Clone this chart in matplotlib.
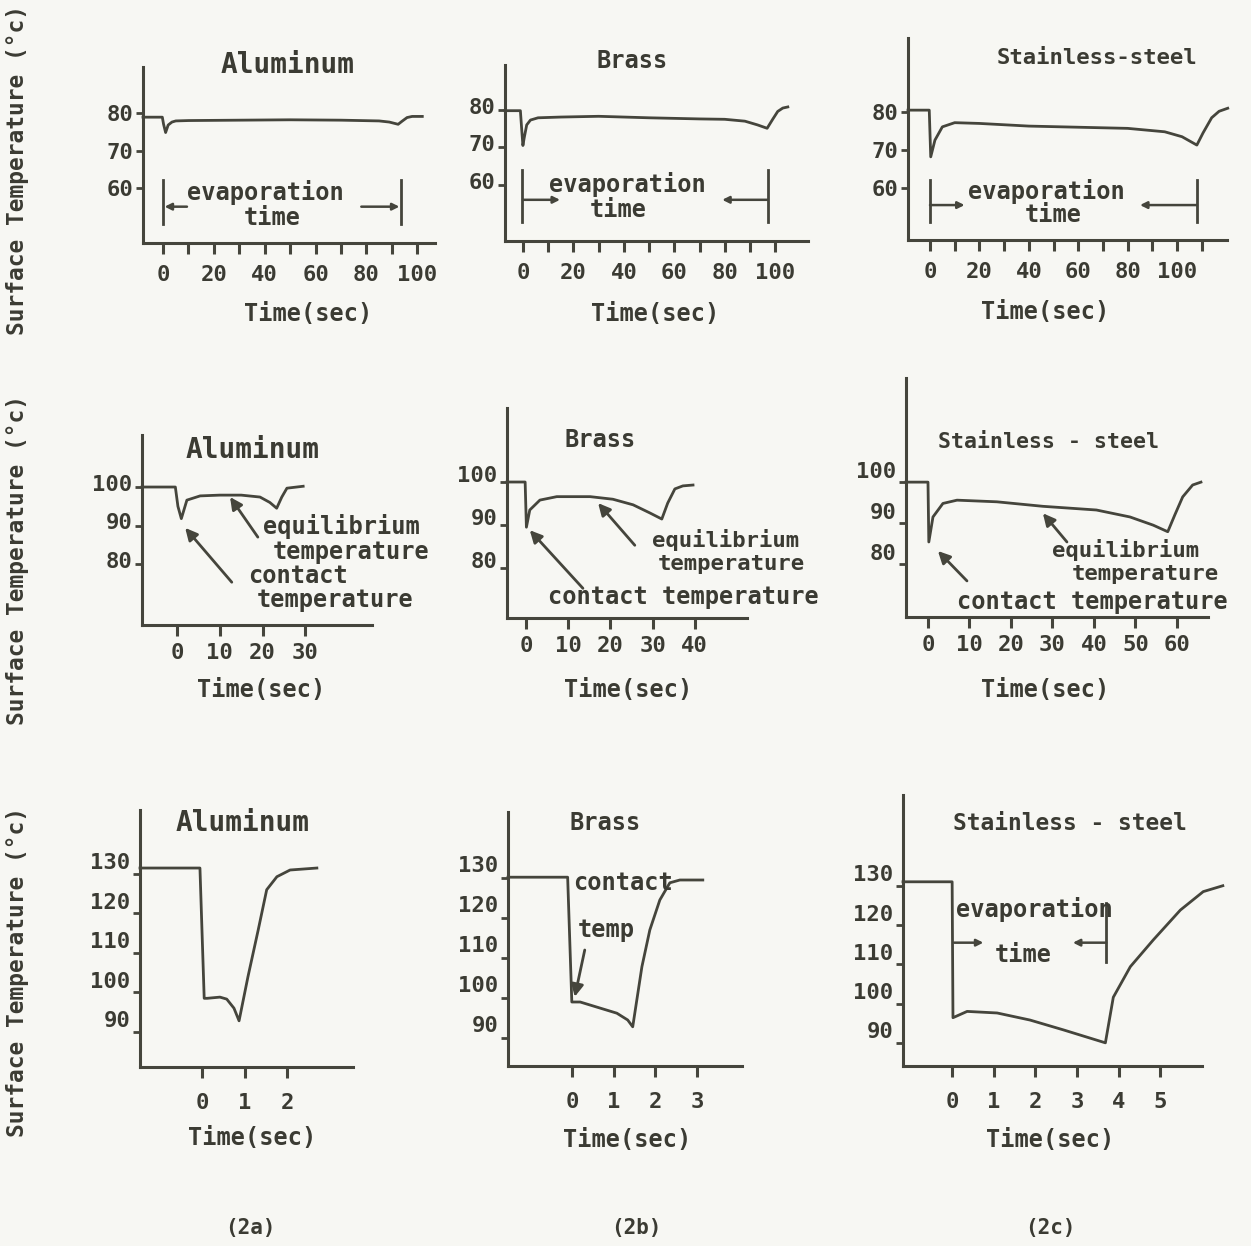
import numpy as np
import matplotlib
matplotlib.use("Agg")
import matplotlib.pyplot as plt
import matplotlib.transforms as mtransforms

W, H = 1251, 1246
INK = "#3b3b33"
LINE = "#45453c"
FONT = "DejaVu Sans Mono"

# ---- data ----
# row 1 : droplet evaporation, surface at ~80 C
al1_t = [-7.9, -0.3, 0.2, 1.0, 2.0, 3.5, 5, 10, 30, 50, 70, 85, 89, 92.5, 94, 96, 98, 102]
al1_T = [78.9, 78.9, 77.0, 74.8, 76.8, 77.6, 77.9, 78.0, 78.1, 78.2, 78.1, 77.9, 77.6, 77.0, 77.8, 78.8, 79.1, 79.1]
br1_t = [-7.1, -1.0, -0.5, 0, 0.5, 1.5, 3, 6, 15, 30, 50, 70, 80, 88, 93, 96.8, 99, 101, 103, 105]
br1_T = [79.8, 79.8, 75.0, 70.5, 72.5, 76.0, 77.3, 77.9, 78.1, 78.3, 77.9, 77.6, 77.5, 77.0, 76.0, 75.1, 77.5, 79.6, 80.5, 80.8]
ss1_t = [-8.9, -0.3, 0.3, 2, 5, 10, 20, 40, 60, 80, 95, 102, 108, 110.5, 114, 117, 120.5]
ss1_T = [80.5, 80.5, 68.2, 72.6, 76.1, 77.2, 77.0, 76.3, 76.0, 75.7, 74.8, 73.5, 71.3, 74.5, 78.5, 80.2, 81.0]

# row 2 : surface at ~100 C
al2_t = [-8.2, -0.4, 0.2, 1.0, 2.3, 5.4, 10, 15, 19.4, 21.7, 23.3, 24.5, 25.7, 29.5]
al2_T = [100, 100, 95, 91.8, 96.6, 97.7, 97.9, 97.9, 97.4, 96.0, 94.5, 97.4, 99.7, 100.2]
br2_t = [-4.5, -0.2, 0.1, 0.9, 3.3, 7.3, 15.2, 20.6, 25.4, 29.4, 32.2, 33.6, 35.3, 37.2, 39.6]
br2_T = [100, 100, 89.5, 93.5, 95.8, 96.6, 96.6, 96.0, 94.7, 92.8, 91.4, 95.1, 98.4, 99.1, 99.3]
ss2_t = [-5.3, 0, 0.2, 1.2, 3.6, 7, 16.6, 27.7, 40.6, 48.7, 54.3, 57.8, 59.5, 61.4, 63.8, 65.8]
ss2_T = [100, 100, 85.4, 91.5, 94.8, 95.6, 95.2, 94.1, 93.2, 91.5, 89.5, 87.9, 92.0, 96.4, 99.3, 100]

# row 3 : surface at ~130 C
al3_t = [-1.46, -0.05, 0.05, 0.12, 0.42, 0.58, 0.75, 0.87, 1.08, 1.32, 1.52, 1.76, 2.07, 2.7]
al3_T = [131.5, 131.5, 98.5, 98.5, 98.8, 98.3, 96.0, 92.8, 104.0, 115.8, 126.0, 129.3, 131.0, 131.5]
br3_t = [-1.53, -0.1, 0.0, 0.2, 1.08, 1.34, 1.46, 1.68, 1.87, 2.11, 2.35, 2.59, 3.14]
br3_T = [130.2, 130.2, 99.0, 99.0, 96.2, 94.5, 92.8, 107.8, 117.0, 124.5, 128.8, 129.5, 129.5]
ss3_t = [-1.18, 0, 0.02, 0.36, 1.08, 1.87, 2.67, 3.68, 3.87, 4.28, 4.83, 5.48, 6.03, 6.5]
ss3_T = [131, 131, 96.4, 98.0, 97.6, 95.8, 93.3, 90.0, 101.6, 109.4, 116.2, 123.8, 128.5, 130]

titles = ["Aluminum", "Brass", "Stainless-steel",
          "Aluminum", "Brass", "Stainless - steel",
          "Aluminum", "Brass", "Stainless - steel"]
curves = [(al1_t, al1_T), (br1_t, br1_T), (ss1_t, ss1_T),
          (al2_t, al2_T), (br2_t, br2_T), (ss2_t, ss2_T),
          (al3_t, al3_T), (br3_t, br3_T), (ss3_t, ss3_T)]
xticks_all = [np.arange(0, 101, 10), np.arange(0, 101, 10), np.arange(0, 111, 10),
              [0, 10, 20, 30], [0, 10, 20, 30, 40], [0, 10, 20, 30, 40, 50, 60],
              [0, 1, 2], [0, 1, 2, 3], [0, 1, 2, 3, 4, 5]]
xlabels_all = [[0, 20, 40, 60, 80, 100]] * 3 + [None] * 6
yticks_all = [[60, 70, 80]] * 3 + [[80, 90, 100]] * 3 + [[90, 100, 110, 120, 130]] * 3

# evaporation-time markers: (start, end, bar low, bar high, arrow level, arrows tail->head)
evap = {0: (0, 93.7, 50.5, 62, 55, ((9.4, 0.6), (78, 93))),
        1: (-0.5, 97, 50.2, 64, 56, ((0, 14.7), (97, 79))),
        2: (0, 108, 51, 62.1, 55.5, ((0, 14), (108, 85))),
        8: (None, 3.7, 110.7, 125.7, 115.5, ((0.05, 0.75), (3.7, 2.9)))}

# ---- layout (pixel boxes: left, top, right, bottom) and data limits ----
boxes = [(143, 67, 435, 243), (505, 65, 808, 241), (908, 38, 1227, 240),
         (142, 435, 372, 625), (507, 408, 747, 618), (906, 378, 1208, 617),
         (140, 810, 353, 1067), (508, 812, 742, 1066), (903, 795, 1202, 1066)]
xlims = [(-7.9, 107), (-7.1, 113), (-8.9, 120.2),
         (-8.2, 45.6), (-4.5, 52.4), (-5.3, 67.5),
         (-1.46, 3.55), (-1.53, 4.08), (-1.18, 6.0)]
ylims = [(45.3, 92.3), (45, 92), (46.3, 99.5),
         (64.2, 113.5), (68.4, 117.2), (67.1, 125.4),
         (81.1, 146.2), (83, 146.5), (84.1, 153.1)]
ylab_shift = [0, 3, 0, 3, 6, 9, 9, 10, 9]
xpad = [8, 8, 8, 5, 5, 5, 11, 11, 11]
title_pos = [(288, 65, 20), (632, 61, 17), (1097, 58, 16),
             (253, 450, 20), (600, 440, 17), (1048, 442, 15.5),
             (243, 823, 20), (605, 823, 17), (1070, 823, 16.5)]
xlab_pos = [(308, 314), (655, 314), (1045, 312),
            (261, 690), (628, 690), (1045, 690),
            (252, 1138), (627, 1140), (1050, 1140)]

fig = plt.figure(figsize=(W / 100, H / 100), dpi=100)
fig.patch.set_facecolor("#f7f7f3")


def ftext(x, y, s, **kw):
    kw.setdefault("fontsize", 17)
    fig.text(x / W, 1 - y / H, s, ha=kw.pop("ha", "center"), va="center",
             family=FONT, weight="bold", color=INK, **kw)


axes = []
for i in range(9):
    l, t, r, b = boxes[i]
    ax = fig.add_axes([l / W, 1 - b / H, (r - l) / W, (b - t) / H])
    ax.set_facecolor("none")
    ax.set_xlim(*xlims[i])
    ax.set_ylim(*ylims[i])
    for s in ["top", "right"]:
        ax.spines[s].set_visible(False)
    for s in ["left", "bottom"]:
        ax.spines[s].set_linewidth(2.2)
        ax.spines[s].set_color(LINE)
    tt, TT = curves[i]
    ax.plot(tt, TT, color=LINE, lw=2.0, clip_on=False, solid_joinstyle="round")

    ax.set_xticks(xticks_all[i])
    if xlabels_all[i] is not None:
        ax.set_xticklabels([str(v) if v in xlabels_all[i] else "" for v in xticks_all[i]])
    ax.set_yticks(yticks_all[i])
    ax.tick_params(axis="x", direction="out", length=8, width=2.2, color=LINE,
                   pad=xpad[i], labelsize=16, labelcolor=INK)
    ax.tick_params(axis="y", direction="out", length=5, width=2, color=LINE,
                   pad=2, labelsize=16, labelcolor=INK)
    for lab in ax.get_xticklabels() + ax.get_yticklabels():
        lab.set_family(FONT)
        lab.set_weight("bold")
    off = mtransforms.ScaledTranslation(0, ylab_shift[i] / 72, fig.dpi_scale_trans)
    for lab in ax.get_yticklabels():
        lab.set_transform(lab.get_transform() + off)

    x, y, fs = title_pos[i]
    ftext(x, y, titles[i], fontsize=fs)
    ftext(*xlab_pos[i], "Time(sec)")
    axes.append(ax)

txt = dict(family=FONT, weight="bold", color=INK, fontsize=17, va="center")
txt16 = {**txt, "fontsize": 16}
arrow = dict(arrowstyle="-|>", color=LINE, lw=2.0, mutation_scale=18, shrinkA=0, shrinkB=0)
small = dict(arrowstyle="-|>", color=LINE, lw=1.8, mutation_scale=10, shrinkA=0, shrinkB=0)

# evaporation time markers
for i, (x0, x1, ylo, yhi, ya, heads) in evap.items():
    ax = axes[i]
    for xb in (x0, x1):
        if xb is not None:
            ax.plot([xb, xb], [ylo, yhi], color=LINE, lw=2.0)
    for tail, head in heads:
        ax.annotate("", xy=(head, ya), xytext=(tail, ya), arrowprops=small)

axes[0].text(40.2, 58.8, "evaporation", ha="center", **txt)
axes[0].text(43, 52, "time", ha="center", **txt)
axes[1].text(41.3, 60.2, "evaporation", ha="center", **txt)
axes[1].text(37.7, 53.3, "time", ha="center", **txt)
axes[2].text(47, 59.2, "evaporation", ha="center", **txt)
axes[2].text(50, 53.0, "time", ha="center", **txt)
axes[8].text(1.97, 123.9, "evaporation", ha="center", **txt)
axes[8].text(1.7, 112.4, "time", ha="center", **txt)

# equilibrium / contact temperature callouts
ax = axes[3]
ax.text(20.1, 89.8, "equilibrium", ha="left", **txt)
ax.text(22.4, 83.1, "temperature", ha="left", **txt)
ax.text(16.6, 76.8, "contact", ha="left", **txt)
ax.text(18.7, 70.6, "temperature", ha="left", **txt)
ax.annotate("", xy=(12.4, 97.4), xytext=(18.9, 87.0), arrowprops=arrow)
ax.annotate("", xy=(1.9, 89.4), xytext=(12.8, 75.3), arrowprops=arrow)

ax = axes[4]
ax.text(29.9, 86.5, "equilibrium", ha="left", **txt16)
ax.text(31.3, 80.9, "temperature", ha="left", **txt16)
ax.text(5.2, 73.3, "contact temperature", ha="left", **txt)
ax.annotate("", xy=(17.1, 95.1), xytext=(25.8, 85.3), arrowprops=arrow)
ax.annotate("", xy=(0.9, 88.8), xytext=(13.5, 75.3), arrowprops=arrow)

ax = axes[5]
ax.text(29.9, 83.4, "equilibrium", ha="left", **txt16)
ax.text(34.7, 77.6, "temperature", ha="left", **txt16)
ax.text(7.0, 70.7, "contact temperature", ha="left", **txt)
ax.annotate("", xy=(27.7, 92.4), xytext=(33.5, 85.4), arrowprops=arrow)
ax.annotate("", xy=(2.4, 83.2), xytext=(9.4, 75.9), arrowprops=arrow)

ax = axes[7]
ax.text(0.02, 128.7, "contact", ha="left", **txt)
ax.text(0.15, 117, "temp", ha="left", **txt)
ax.annotate("", xy=(0.07, 100.3), xytext=(0.31, 112), arrowprops=arrow)

# shared y labels and panel tags
for yc in (170, 560, 972):
    ftext(18, yc, "Surface Temperature (\u00b0c)", rotation=90, fontsize=16.5)
for x, s in [(250, "(2a)"), (636, "(2b)"), (1050, "(2c)")]:
    ftext(x, 1228, s, fontsize=15)

fig.savefig("out.png", dpi=100, facecolor=fig.get_facecolor())
